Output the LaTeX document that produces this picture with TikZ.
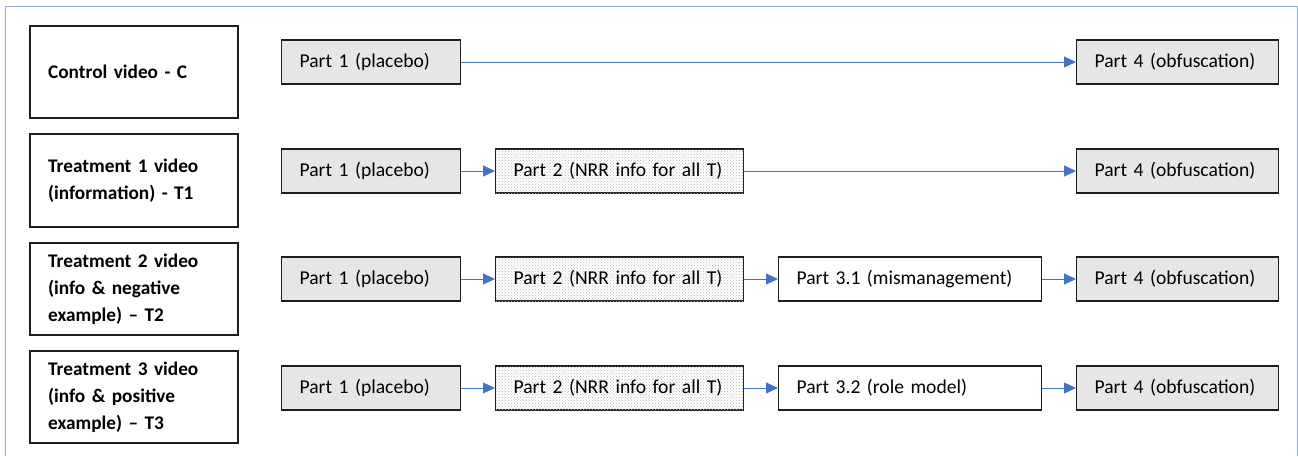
\documentclass[tikz,border=0pt]{standalone}
\usepackage{fontspec}
\setmainfont{Carlito}
\usetikzlibrary{arrows.meta,patterns}
\definecolor{arrowblue}{HTML}{4472C4}
\definecolor{framecol}{RGB}{150,170,210}
\definecolor{boxgray}{RGB}{230,230,230}
\definecolor{edgecol}{RGB}{30,30,30}
\tikzset{
  groupbox/.style={draw=edgecol, line width=2.3pt, anchor=north west, align=left,
    inner xsep=18pt, inner ysep=0pt, font=\fontsize{19.3}{27}\selectfont\bfseries},
  partbox/.style={draw=edgecol, line width=1.2pt, anchor=west, align=left,
    inner xsep=18pt, inner ysep=0pt, minimum height=44pt, font=\fontsize{19.6}{22}\selectfont},
  grayfill/.style={fill=boxgray},
  dotfill/.style={fill=white, postaction={pattern=crosshatch dots, pattern color=gray!55}},
  flow/.style={draw=arrowblue, line width=1pt, -{Triangle[length=12pt,width=11pt]}}
}
\begin{document}
\begin{tikzpicture}[x=1pt,y=-1pt]
\useasboundingbox (0,0) rectangle (1298,456);
% frame
\draw[framecol, line width=1pt] (5,456) -- (5,6) -- (1297,6) -- (1297,456);

% group boxes
\node[groupbox, text width=172pt, minimum height=92pt] (gC) at (29,25) {Control video - C};
\node[groupbox, text width=172pt, minimum height=93pt] (gT1) at (29,133) {Treatment 1 video\\(information) - T1};
\node[groupbox, text width=172pt, minimum height=92pt] (gT2) at (29,242) {Treatment 2 video\\(info \& negative\\example) -- T2};
\node[groupbox, text width=172pt, minimum height=92pt] (gT3) at (29,350) {Treatment 3 video\\(info \& positive\\example) -- T3};

% row 1
\node[partbox, grayfill, text width=143pt] (c1) at (281,62) {Part 1 (placebo)};
\node[partbox, grayfill, text width=166pt] (c4) at (1076,62) {Part 4 (obfuscation)};
\draw[flow] (c1) -- (c4);

% row 2
\node[partbox, grayfill, text width=143pt] (a1) at (281,171) {Part 1 (placebo)};
\node[partbox, dotfill, text width=212pt] (a2) at (495,171) {Part 2 (NRR info for all T)};
\node[partbox, grayfill, text width=166pt] (a4) at (1076,171) {Part 4 (obfuscation)};
\draw[flow] (a1) -- (a2);
\draw[flow] (a2) -- (a4);

% row 3
\node[partbox, grayfill, text width=143pt] (b1) at (281,279) {Part 1 (placebo)};
\node[partbox, dotfill, text width=212pt] (b2) at (495,279) {Part 2 (NRR info for all T)};
\node[partbox, fill=white, text width=227pt] (b3) at (778,279) {Part 3.1 (mismanagement)};
\node[partbox, grayfill, text width=166pt] (b4) at (1076,279) {Part 4 (obfuscation)};
\draw[flow] (b1) -- (b2);
\draw[flow] (b2) -- (b3);
\draw[flow] (b3) -- (b4);

% row 4
\node[partbox, grayfill, text width=143pt] (d1) at (281,388) {Part 1 (placebo)};
\node[partbox, dotfill, text width=212pt] (d2) at (495,388) {Part 2 (NRR info for all T)};
\node[partbox, fill=white, text width=227pt] (d3) at (778,388) {Part 3.2 (role model)};
\node[partbox, grayfill, text width=166pt] (d4) at (1076,388) {Part 4 (obfuscation)};
\draw[flow] (d1) -- (d2);
\draw[flow] (d2) -- (d3);
\draw[flow] (d3) -- (d4);
\end{tikzpicture}
\end{document}
